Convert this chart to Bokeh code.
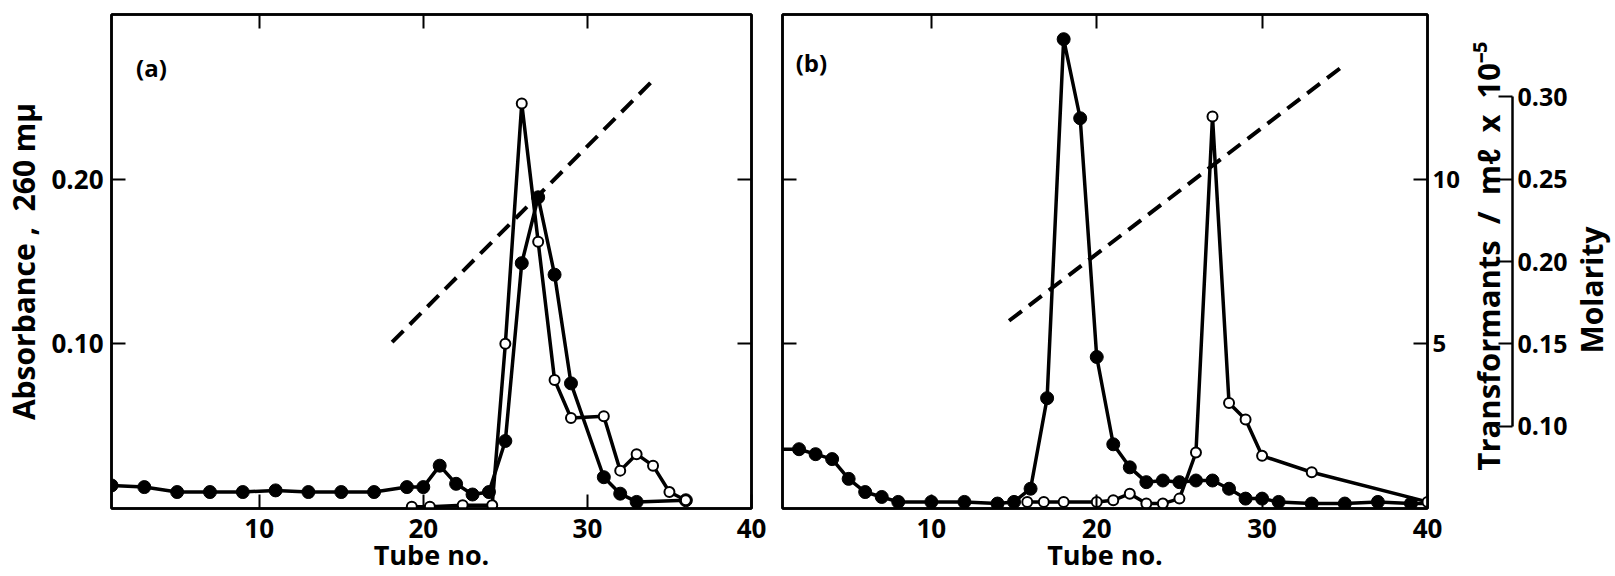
import math
from bokeh.plotting import figure
from bokeh.models import (Range1d, LinearAxis, FixedTicker, NumeralTickFormatter, Label, Title,
                          CustomJSTickFormatter)
from bokeh.layouts import row
from bokeh.embed import file_html
from bokeh.resources import INLINE

FONT = "Open Sans"
NB = "\u00a0"

# ---- panel (a) ----
a_abs_tube = [1, 3, 5, 7, 9, 11, 13, 15, 17, 19, 20, 21, 22, 23, 24, 25, 26, 27, 28, 29, 31, 32, 33, 36]
a_abs = [0.014, 0.013, 0.010, 0.010, 0.010, 0.011, 0.010, 0.010, 0.010, 0.013, 0.013, 0.026, 0.015,
         0.0085, 0.010, 0.041, 0.149, 0.189, 0.142, 0.076, 0.019, 0.009, 0.004, 0.005]
a_tr_tube = [19.3, 20.4, 22.4, 24.2, 25, 26, 27, 28, 29, 31, 32, 33, 34, 35, 36]
a_tr = [0.05, 0.05, 0.1, 0.1, 5.0, 12.3, 8.1, 3.9, 2.75, 2.8, 1.15, 1.65, 1.3, 0.5, 0.25]
a_grad_tube = [18.1, 33.9]
a_grad_mol = [0.151, 0.309]

# ---- panel (b) ----
b_abs_tube = [1, 2, 3, 4, 5, 6, 7, 8, 10, 12, 14, 15, 16, 17, 18, 19, 20, 21, 22, 23, 24, 25, 26, 27,
              28, 29, 30, 31, 33, 35, 37, 39, 40]
b_abs = [0.036, 0.036, 0.033, 0.030, 0.018, 0.010, 0.007, 0.004, 0.004, 0.004, 0.003, 0.004, 0.012,
         0.067, 0.285, 0.237, 0.092, 0.039, 0.025, 0.016, 0.017, 0.016, 0.017, 0.017, 0.012, 0.006,
         0.006, 0.004, 0.003, 0.003, 0.004, 0.003, 0.003]
b_tr_tube = [15.8, 16.8, 18, 20, 21, 22, 23, 24, 25, 26, 27, 28, 29, 30, 33, 40]
b_tr = [0.2, 0.2, 0.2, 0.2, 0.25, 0.45, 0.15, 0.15, 0.3, 1.7, 11.9, 3.2, 2.7, 1.6, 1.1, 0.2]
b_grad_tube = [14.7, 34.8]
b_grad_mol = [0.164, 0.318]

x_ticks = [10, 20, 30, 40]
abs_ticks = [0.10, 0.20]
tr_ticks = [5, 10]
mol_ticks = [0.10, 0.15, 0.20, 0.25, 0.30]

LW = 2.5
TOP, BOTTOM, H = 14, 68, 576


def style_axis(ax, size="26px"):
    ax.axis_line_width = LW
    ax.axis_line_color = "black"
    ax.major_tick_line_width = 2
    ax.major_tick_in = 14
    ax.major_tick_out = 0
    ax.minor_tick_line_color = None
    ax.major_label_text_font = FONT
    ax.major_label_text_font_style = "bold"
    ax.major_label_text_font_size = size
    ax.major_label_text_color = "black"
    ax.axis_label_text_font = FONT
    ax.axis_label_text_font_style = "bold"
    ax.axis_label_text_color = "black"


def blank_axis(ax):
    # tick marks only, no tick labels
    style_axis(ax, "1px")
    ax.formatter = CustomJSTickFormatter(code="return ''")
    ax.major_label_standoff = 0


def side_title(text, size, standoff, offset):
    # vertical caption, starting `offset` px above the bottom of the frame
    return Title(text=text, align="left", standoff=standoff, offset=offset, text_font=FONT,
                 text_font_style="bold", text_font_size=size, text_color="black")


def strip(width, bl, br):
    s = figure(width=width, height=H, x_range=Range1d(0, 1), y_range=Range1d(0.05, 0.35),
               x_axis_type=None, y_axis_type=None, output_backend="svg", toolbar_location=None,
               min_border_left=bl, min_border_right=br, min_border_top=TOP, min_border_bottom=BOTTOM)
    s.outline_line_color = None
    s.xgrid.visible = False
    s.ygrid.visible = False
    s.background_fill_color = "white"
    s.border_fill_color = "white"
    return s


def panel(width, bl, br, left_labels):
    p = figure(width=width, height=H, x_range=Range1d(1, 40), y_range=Range1d(0, 0.30),
               output_backend="svg", toolbar_location=None,
               min_border_left=bl, min_border_right=br, min_border_top=TOP, min_border_bottom=BOTTOM)
    p.extra_y_ranges = {"tr": Range1d(0, 15), "mol": Range1d(0.05, 0.35)}
    p.xgrid.visible = False
    p.ygrid.visible = False
    p.outline_line_color = "black"
    p.outline_line_width = LW
    p.background_fill_color = "white"
    p.border_fill_color = "white"

    xa = p.xaxis[0]
    style_axis(xa)
    xa.ticker = FixedTicker(ticks=x_ticks)
    xa.major_label_standoff = 10
    xa.axis_label = "Tube no."
    xa.axis_label_text_font_size = "27px"
    xa.axis_label_standoff = -5

    ya = p.yaxis[0]
    ya.ticker = FixedTicker(ticks=abs_ticks)
    if left_labels:
        style_axis(ya)
        ya.formatter = NumeralTickFormatter(format="0.00")
        ya.major_label_standoff = 8
        ya.axis_label = f"Absorbance{NB},{NB} 260 mμ"
        ya.axis_label_text_font_size = "30px"
        ya.axis_label_standoff = 4
    else:
        blank_axis(ya)

    top = LinearAxis(ticker=FixedTicker(ticks=[10, 20, 30]))
    blank_axis(top)
    p.add_layout(top, "above")
    return p


def draw(p, abs_tube, abs_val, tr_tube, tr_val, g_tube, g_mol, abs_marks):
    p.line(g_tube, g_mol, y_range_name="mol", line_color="black", line_width=4, line_dash="16 9")
    p.line(abs_tube, abs_val, line_color="black", line_width=3.5)
    p.line(tr_tube, tr_val, y_range_name="tr", line_color="black", line_width=3.5)
    p.scatter(abs_marks[0], abs_marks[1], marker="circle", size=13,
              fill_color="black", line_color="black")
    p.scatter(tr_tube, tr_val, y_range_name="tr", marker="circle", size=10,
              fill_color="white", line_color="black", line_width=2)


# panel (a)
pa = panel(770, 111, 19, True)
ra = LinearAxis(ticker=FixedTicker(ticks=abs_ticks))
blank_axis(ra)
pa.add_layout(ra, "right")
draw(pa, a_abs_tube, a_abs, a_tr_tube, a_tr, a_grad_tube, a_grad_mol, (a_abs_tube, a_abs))
pa.add_layout(Label(x=2.5, y=0.278, text="(a)", text_font=FONT, text_font_style="bold",
                    text_font_size="24px", text_baseline="top", text_color="black"))

# panel (b): absorbance and transformants
pb = panel(692, 12, 33, False)
tr_axis = LinearAxis(y_range_name="tr", ticker=FixedTicker(ticks=tr_ticks))
style_axis(tr_axis, "24px")
tr_axis.major_label_standoff = 5
pb.add_layout(tr_axis, "right")
draw(pb, b_abs_tube, b_abs, b_tr_tube, b_tr, b_grad_tube, b_grad_mol,
     (b_abs_tube[1:-1], b_abs[1:-1]))
pb.add_layout(Label(x=1.8, y=0.281, text="(b)", text_font=FONT, text_font_style="bold",
                    text_font_size="24px", text_baseline="top", text_color="black"))

# molarity scale of the gradient, with the transformants caption on its left
pc = strip(109, 48, 59)
pc.add_layout(side_title(f"Transformants{NB} /{NB} mℓ{NB} x{NB} 10⁻⁵", "31px", 4, 38), "left")
mol_axis = LinearAxis(ticker=FixedTicker(ticks=mol_ticks), bounds=(0.10, 0.30))
style_axis(mol_axis, "25px")
mol_axis.formatter = NumeralTickFormatter(format="0.00")
mol_axis.major_label_standoff = 5
pc.add_layout(mol_axis, "right")

# caption of the molarity scale
pd = strip(44, 42, 0)
pd.add_layout(side_title("Molarity", "30px", 8, 155), "left")

layout = row(pa, pb, pc, pd)
open("out.html", "w").write(file_html(layout, INLINE))
